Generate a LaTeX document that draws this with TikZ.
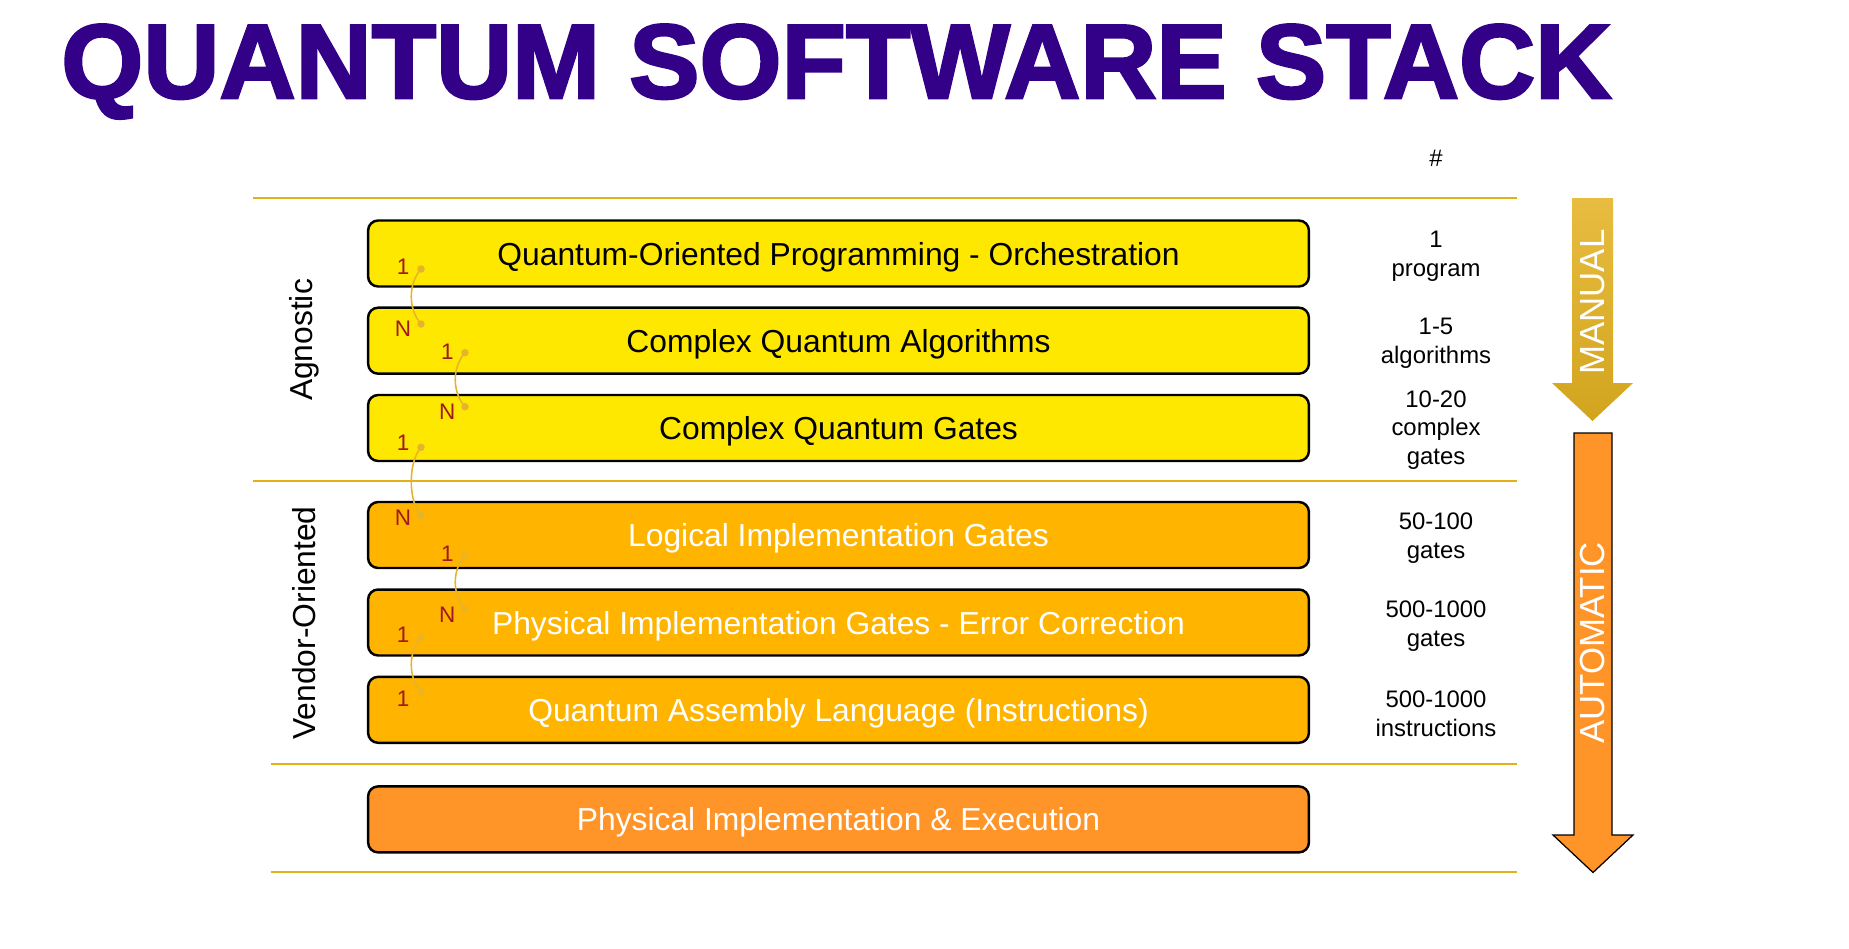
\documentclass[tikz,border=0pt]{standalone}
\usepackage{fontspec}
\setmainfont{Liberation Sans}
\newfontfamily\titlefont[FakeBold=2.5]{Liberation Sans Bold}
\usetikzlibrary{positioning}
\definecolor{titlepurple}{HTML}{330088}
\definecolor{layeryellow}{HTML}{FFE800}
\definecolor{layerorange}{HTML}{FFB400}
\definecolor{execorange}{HTML}{FF9429}
\definecolor{rulegold}{HTML}{E3B018}
\definecolor{linkgold}{HTML}{E6B42C}
\definecolor{cardred}{HTML}{A01820}
\definecolor{mantop}{HTML}{E8BC40}
\definecolor{manbot}{HTML}{D2A41E}
\tikzset{
  layer/.style={draw=black, line width=1.4pt, rounded corners=0.2cm, minimum width=18.82cm, minimum height=1.32cm, text depth=0pt, font=\fontsize{18.1}{22}\selectfont},
  agn/.style={layer, fill=layeryellow, text=black},
  vend/.style={layer, fill=layerorange, text=white},
  count/.style={align=center, font=\fontsize{13.6}{16.4}\selectfont},
  side/.style={rotate=90, font=\fontsize{18.1}{22}\selectfont},
  card/.style={text=cardred, font=\fontsize{12.8}{15}\selectfont, inner sep=0pt},
  dot/.style={circle, fill=linkgold, inner sep=0pt, minimum size=0.15cm},
  link/.style={draw=linkgold, line width=0.9pt},
  rule/.style={draw=rulegold, line width=1.1pt},
  flow/.style={rotate=90, text=white, font=\fontsize{19.8}{24}\selectfont},
}
\begin{document}
\begin{tikzpicture}[x=0.02cm, y=-0.02cm]
    \useasboundingbox (0,0) rectangle (1849,948);

    \node[anchor=base west, inner sep=0pt, text=titlepurple, font=\titlefont\fontsize{60}{60}\selectfont] (title) at (61,98) {QUANTUM SOFTWARE STACK};

    \draw[rule] (253,198) -- (1517,198);
    \draw[rule] (253,481) -- (1517,481);
    \draw[rule] (271,764) -- (1517,764);
    \draw[rule] (271,872) -- (1517,872);

    \node[agn] (prog) at (838.5,253.5) {Quantum-Oriented Programming - Orchestration};
    \node[agn] (algo) at (838.5,340.7) {Complex Quantum Algorithms};
    \node[agn] (cgates) at (838.5,428) {Complex Quantum Gates};
    \node[vend] (lgates) at (838.5,535) {Logical Implementation Gates};
    \node[vend] (pgates) at (838.5,622.5) {Physical Implementation Gates - Error Correction};
    \node[vend] (qasm) at (838.5,709.8) {Quantum Assembly Language (Instructions)};
    \node[vend, fill=execorange] (exec) at (838.5,819.4) {Physical Implementation \& Execution};

    \node[side] (agnostic) at (304,340) {Agnostic};
    \node[side] (vendor) at (304,623) {Vendor-Oriented};

    \node[count] (hash) at (1436,158) {\#};
    \node[count] (nprog) at (1436,256) {1\\program};
    \node[count] (nalgo) at (1436,343) {1-5\\algorithms};
    \node[count] (ncgates) at (1436,430) {10-20\\complex\\gates};
    \node[count] (nlgates) at (1436,538.5) {50-100\\gates};
    \node[count] (npgates) at (1436,626) {500-1000\\gates};
    \node[count] (nqasm) at (1436,713.5) {500-1000\\instructions};

    \node[card] (c1a) at (403,266.7) {1};
    \node[card] (c1b) at (403,328.3) {N};
    \node[card] (c2a) at (447.3,351.7) {1};
    \node[card] (c2b) at (447.3,411.7) {N};
    \node[card] (c3a) at (403,442.3) {1};
    \node[card] (c3b) at (403,517.3) {N};
    \node[card] (c4a) at (447.3,553.3) {1};
    \node[card] (c4b) at (447.3,615) {N};
    \node[card] (c5a) at (403,635) {1};
    \node[card] (c5b) at (403,698.3) {1};

    \node[dot] (d1a) at (421,269) {};
    \node[dot] (d1b) at (421,324) {};
    \node[dot] (d2a) at (465,352.7) {};
    \node[dot] (d2b) at (465,406.7) {};
    \node[dot] (d3a) at (421,447.3) {};
    \node[dot] (d3b) at (421,515.7) {};
    \node[dot, opacity=0.6] (d4a) at (465,555) {};
    \node[dot, opacity=0.6] (d4b) at (465,609.3) {};
    \node[dot, opacity=0.6] (d5a) at (421,637.3) {};
    \node[dot, opacity=0.6] (d5b) at (421,692.3) {};

    \draw[link] (d1a.center) .. controls +(-13,15) and +(-13,-15) .. (d1b.center);
    \draw[link] (d2a.center) .. controls +(-13,15) and +(-13,-15) .. (d2b.center);
    \draw[link] (d3a.center) .. controls +(-13,15) and +(-13,-15) .. (d3b.center);
    \draw[link] (d4a.center) .. controls +(-13,15) and +(-13,-15) .. (d4b.center);
    \draw[link] (d5a.center) .. controls +(-13,15) and +(-13,-15) .. (d5b.center);

    \shade[top color=mantop, bottom color=manbot] (1572,198) -- (1613,198) -- (1613,383) -- (1633,383) -- (1592.5,421) -- (1552,383) -- (1572,383) -- cycle;
    \node[flow] (manual) at (1592.5,302) {MANUAL};

    \draw[black, line width=0.7pt, fill=execorange] (1574,433) -- (1612,433) -- (1612,835) -- (1633,835) -- (1593,872.5) -- (1553,835) -- (1574,835) -- cycle;
    \node[flow] (auto) at (1593,643) {AUTOMATIC};
\end{tikzpicture}
\end{document}
